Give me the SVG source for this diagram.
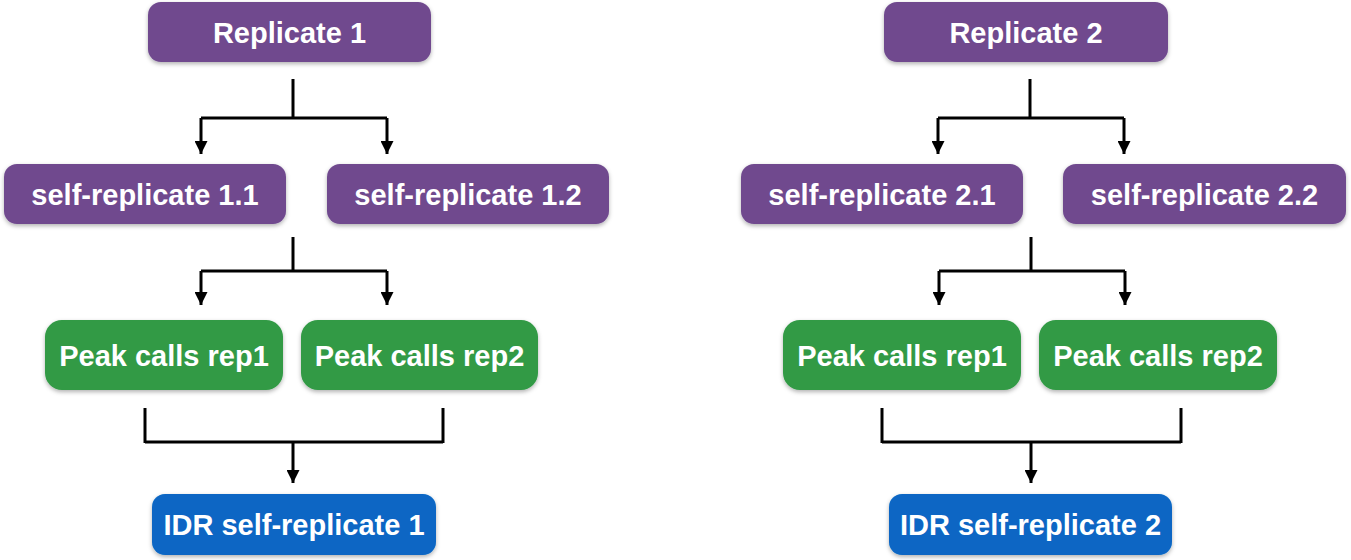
<svg xmlns="http://www.w3.org/2000/svg" width="1351" height="560" viewBox="0 0 1351 560">
  <style>
    .lbl { font-family: "Liberation Sans", Arial, Helvetica, sans-serif; font-weight: bold; font-size: 29px; fill: #ffffff; text-anchor: middle; }
    .purple { fill: #6f4a8e; }
    .green { fill: #319a45; }
    .blue { fill: #0866c4; }
    .box { filter: url(#shadow); }
    .conn { stroke: #000000; stroke-width: 3; fill: none; }
    .arr { stroke: #000000; stroke-width: 3; fill: none; marker-end: url(#arrow); }
  </style>
  <defs>
    <filter id="shadow" x="-10%" y="-20%" width="120%" height="150%">
      <feDropShadow dx="0" dy="2" stdDeviation="2" flood-color="#000000" flood-opacity="0.3"/>
    </filter>
    <marker id="arrow" markerUnits="userSpaceOnUse" markerWidth="13" markerHeight="13" viewBox="0 0 12 12" refX="12" refY="6" orient="auto">
      <path d="M0,0 L12,6 L0,12 Z" fill="#000000"/>
    </marker>
  </defs>
  <rect width="1351" height="560" fill="#ffffff"/>

  <g id="connectors">
    <!-- left tree -->
    <line class="conn" x1="293" y1="79" x2="293" y2="118"/>
    <line class="conn" x1="201" y1="118" x2="387" y2="118"/>
    <line class="arr" x1="201" y1="118" x2="201" y2="154"/>
    <line class="arr" x1="387" y1="118" x2="387" y2="154"/>

    <line class="conn" x1="293" y1="237" x2="293" y2="271"/>
    <line class="conn" x1="201" y1="271" x2="387" y2="271"/>
    <line class="arr" x1="201" y1="271" x2="201" y2="305"/>
    <line class="arr" x1="387" y1="271" x2="387" y2="305"/>

    <line class="conn" x1="145" y1="408" x2="145" y2="443"/>
    <line class="conn" x1="443" y1="408" x2="443" y2="443"/>
    <line class="conn" x1="145" y1="442" x2="443" y2="442"/>
    <line class="arr" x1="293" y1="442" x2="293" y2="483"/>

    <!-- right tree -->
    <line class="conn" x1="1030" y1="79" x2="1030" y2="118"/>
    <line class="conn" x1="938" y1="118" x2="1124" y2="118"/>
    <line class="arr" x1="938" y1="118" x2="938" y2="154"/>
    <line class="arr" x1="1124" y1="118" x2="1124" y2="154"/>

    <line class="conn" x1="1031" y1="237" x2="1031" y2="271"/>
    <line class="conn" x1="939" y1="271" x2="1125" y2="271"/>
    <line class="arr" x1="939" y1="271" x2="939" y2="305"/>
    <line class="arr" x1="1125" y1="271" x2="1125" y2="305"/>

    <line class="conn" x1="882" y1="408" x2="882" y2="443"/>
    <line class="conn" x1="1181" y1="408" x2="1181" y2="443"/>
    <line class="conn" x1="882" y1="442" x2="1181" y2="442"/>
    <line class="arr" x1="1031" y1="442" x2="1031" y2="483"/>
  </g>

  <g id="replicate1">
    <rect class="box purple" x="148" y="2" width="283" height="60" rx="13"/>
    <text class="lbl" x="289.5" y="42.5">Replicate 1</text>
  </g>
  <g id="replicate2">
    <rect class="box purple" x="884" y="2" width="284" height="60" rx="13"/>
    <text class="lbl" x="1026" y="42.5">Replicate 2</text>
  </g>

  <g id="self-replicate-1-1">
    <rect class="box purple" x="4" y="164" width="282" height="60" rx="13"/>
    <text class="lbl" x="145" y="204.5">self-replicate 1.1</text>
  </g>
  <g id="self-replicate-1-2">
    <rect class="box purple" x="327" y="164" width="282" height="60" rx="13"/>
    <text class="lbl" x="468" y="204.5">self-replicate 1.2</text>
  </g>
  <g id="self-replicate-2-1">
    <rect class="box purple" x="741" y="164" width="282" height="60" rx="13"/>
    <text class="lbl" x="882" y="204.5">self-replicate 2.1</text>
  </g>
  <g id="self-replicate-2-2">
    <rect class="box purple" x="1063" y="164" width="283" height="60" rx="13"/>
    <text class="lbl" x="1204.5" y="204.5">self-replicate 2.2</text>
  </g>

  <g id="peak-rep1-left">
    <rect class="box green" x="45" y="320" width="238" height="70" rx="17"/>
    <text class="lbl" x="164" y="365.5">Peak calls rep1</text>
  </g>
  <g id="peak-rep2-left">
    <rect class="box green" x="301" y="320" width="237" height="70" rx="17"/>
    <text class="lbl" x="419.5" y="365.5">Peak calls rep2</text>
  </g>
  <g id="peak-rep1-right">
    <rect class="box green" x="783" y="320" width="238" height="70" rx="17"/>
    <text class="lbl" x="902" y="365.5">Peak calls rep1</text>
  </g>
  <g id="peak-rep2-right">
    <rect class="box green" x="1039" y="320" width="238" height="70" rx="17"/>
    <text class="lbl" x="1158" y="365.5">Peak calls rep2</text>
  </g>

  <g id="idr-1">
    <rect class="box blue" x="152" y="494" width="284" height="61" rx="13"/>
    <text class="lbl" x="294" y="535">IDR self-replicate 1</text>
  </g>
  <g id="idr-2">
    <rect class="box blue" x="889" y="494" width="283" height="61" rx="13"/>
    <text class="lbl" x="1030.5" y="535">IDR self-replicate 2</text>
  </g>
</svg>
